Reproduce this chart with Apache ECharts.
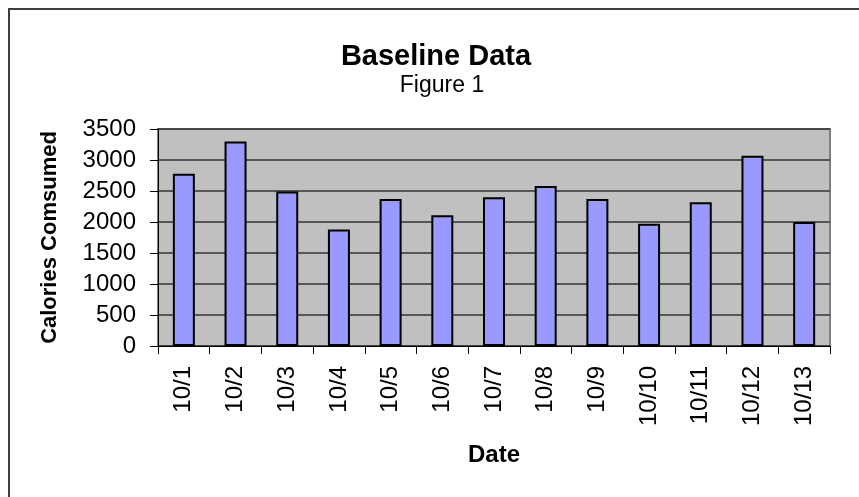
<!DOCTYPE html>
<html>
<head>
<meta charset="utf-8">
<script src="https://cdn.jsdelivr.net/npm/echarts@6/dist/echarts.min.js"></script>
<style>
  html, body { margin: 0; padding: 0; background: #fff; }
  #chart { width: 859px; height: 497px; }
</style>
</head>
<body>
<div id="chart"></div>
<script>
const dates = ['10/1', '10/2', '10/3', '10/4', '10/5', '10/6', '10/7', '10/8', '10/9', '10/10', '10/11', '10/12', '10/13']
const calories = [2780, 3300, 2490, 1880, 2370, 2110, 2400, 2580, 2370, 1970, 2320, 3070, 2000]
const yTicks = { min: 0, max: 3500, interval: 500 }

const chart = echarts.init(document.getElementById('chart'))
const font = '"Liberation Sans", Arial, sans-serif'

const option = {
  animation: false,
  backgroundColor: '#fff',
  textStyle: { fontFamily: font },
  graphic: [
    {
      // chart frame (only top and left edges show in the picture)
      type: 'rect',
      shape: { x: 9, y: 9, width: 1000, height: 700 },
      style: { fill: 'none', stroke: '#404040', lineWidth: 2 },
      silent: true,
    },
  ],
  title: [
    {
      text: 'Baseline Data',
      left: 431,
      top: 37,
      textAlign: 'center',
      textStyle: { fontFamily: font, fontSize: 29, fontWeight: 'bold', color: '#000' },
    },
    {
      text: 'Figure 1',
      left: 437,
      top: 69,
      textAlign: 'center',
      textStyle: { fontFamily: font, fontSize: 23, fontWeight: 'normal', color: '#000' },
    },
  ],
  grid: {
    left: 158,
    top: 129,
    right: 29,
    bottom: 151,
    show: true,
    backgroundColor: '#C0C0C0',
    borderColor: '#808080',
    borderWidth: 2,
  },
  xAxis: {
    type: 'category',
    data: dates,
    name: 'Date',
    nameLocation: 'middle',
    nameGap: 97,
    nameTextStyle: { fontFamily: font, fontSize: 24, fontWeight: 'bold', color: '#000' },
    axisLine: { lineStyle: { color: '#000', width: 1 } },
    axisTick: { show: true, length: 8, lineStyle: { color: '#000' } },
    axisLabel: { rotate: 90, margin: 20, fontFamily: font, fontSize: 24, color: '#000' },
    splitLine: { show: false },
  },
  yAxis: {
    type: 'value',
    min: yTicks.min,
    max: yTicks.max,
    interval: yTicks.interval,
    name: 'Calories Comsumed',
    nameLocation: 'middle',
    nameGap: 97,
    nameTextStyle: { fontFamily: font, fontSize: 22, fontWeight: 'bold', color: '#000' },
    axisLine: { show: true, lineStyle: { color: '#000', width: 1 } },
    axisTick: { show: true, length: 8, lineStyle: { color: '#000' } },
    axisLabel: {
      margin: 22,
      fontFamily: font,
      fontSize: 24,
      color: '#000',
      formatter: (v) => String(v),
    },
    splitLine: { show: true, lineStyle: { color: '#333', width: 1.5 } },
  },
  series: [
    {
      type: 'bar',
      data: calories,
      barWidth: 22,
      itemStyle: { color: '#9999FF', borderColor: '#000', borderWidth: 2 },
    },
  ],
}

chart.setOption(option)
</script>
</body>
</html>
